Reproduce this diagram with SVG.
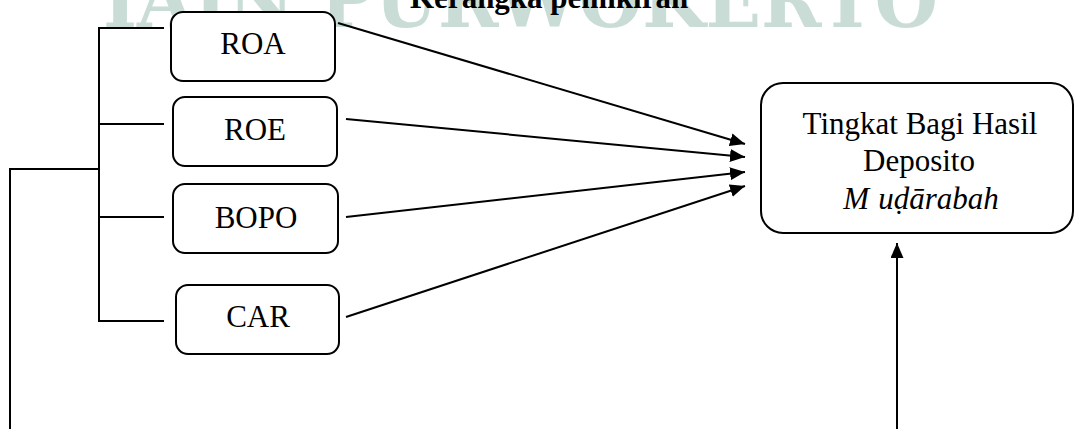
<svg xmlns="http://www.w3.org/2000/svg" width="1076" height="429" viewBox="0 0 1076 429">
<style>
.wm{font-family:"DejaVu Serif","Liberation Serif",serif;font-weight:bold;fill:#c9ddd6}
.title{font-family:"Liberation Serif",serif;font-weight:bold;font-size:31px;fill:#000}
.box{fill:#fff;stroke:#000;stroke-width:2}
.lbl{font-family:"Liberation Serif",serif;font-size:31px;fill:#000;text-anchor:middle}
.ln{fill:none;stroke:#000;stroke-width:2}
</style>
<defs>
<marker id="ah" markerUnits="userSpaceOnUse" markerWidth="16" markerHeight="14" refX="15" refY="6.5" orient="auto">
<path d="M0,0 L15,6.5 L0,13 z" fill="#000"/>
</marker>
</defs>
<rect width="1076" height="429" fill="#fff"/>
<text class="wm" x="103" y="27" font-size="76" textLength="835" lengthAdjust="spacingAndGlyphs">IAIN PURWOKERTO</text>
<text class="title" x="410" y="8">Kerangka pemikiran</text>
<g id="connectors">
<path class="ln" d="M164 28 H99 V321 H164 M99 124 H164 M99 217 H164 M99 169 H10 V429"/>
<line class="ln" x1="338" y1="23" x2="745" y2="144" marker-end="url(#ah)"/>
<line class="ln" x1="346" y1="119" x2="745" y2="157" marker-end="url(#ah)"/>
<line class="ln" x1="346" y1="217" x2="745" y2="172" marker-end="url(#ah)"/>
<line class="ln" x1="346" y1="317" x2="745" y2="186" marker-end="url(#ah)"/>
<line class="ln" x1="897" y1="429" x2="897" y2="243" marker-end="url(#ah)"/>
</g>
<g id="roa"><rect class="box" x="171" y="12" width="164" height="69" rx="12"/><text class="lbl" x="253" y="54">ROA</text></g>
<g id="roe"><rect class="box" x="173" y="97" width="164" height="69" rx="12"/><text class="lbl" x="255" y="140">ROE</text></g>
<g id="bopo"><rect class="box" x="173" y="184" width="165" height="69" rx="12"/><text class="lbl" x="256" y="228">BOPO</text></g>
<g id="car"><rect class="box" x="176" y="285" width="163" height="69" rx="12"/><text class="lbl" x="258" y="327">CAR</text></g>
<g id="target"><rect class="box" x="761" y="83" width="312" height="150" rx="22"/>
<text class="lbl" x="920" y="134">Tingkat Bagi Hasil</text>
<text class="lbl" x="919" y="171" font-size="32">Deposito</text>
<text class="lbl" x="921" y="209" font-style="italic">M<tspan dx="9">uḍārabah</tspan></text>
</g>
</svg>
